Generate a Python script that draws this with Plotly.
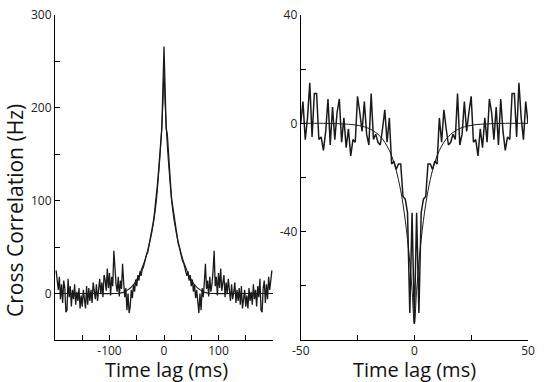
import plotly.graph_objects as go

# left panel: positive-lag half (ms, step 2), trace is symmetric so it is mirrored
left_lag_half = list(range(0, 200, 2))
left_cc_half = [266, 222, 178, 172, 150, 132, 118, 102, 94, 84,
                76, 66, 62, 54, 50, 44, 42, 35, 33, 28,
                26, 19, 24, 14, 20, 8, 15, 2, 10, -5,
                4, -14, -21, 0, -18, 6, -4, 12, 32, 5,
                14, -3, 18, 2, 10, 24, 46, 8, 18, -2,
                22, 6, 27, 3, 15, 20, -4, 12, 0, 16,
                4, -8, 10, -6, 2, 12, -10, 4, -8, 6,
                -12, 8, -16, -4, 4, -14, -2, -16, 6, -8,
                2, -12, 10, -6, 4, -14, 8, -4, 16, -18,
                -20, 6, 14, -10, 10, -6, 18, 4, 14, 25]
left_fit_lag_half = [0, 2, 4, 6, 8, 10, 12, 14, 16, 18, 20, 22, 24, 26, 28, 30,
                     32, 34, 36, 38, 40, 44, 48, 52, 56, 60, 64, 70, 76, 82, 90, 120, 160, 200]
left_fit_half = [238, 205, 180, 160, 143, 128, 113, 100, 90, 81, 74, 67, 61, 56, 51, 46.5,
                 42, 38, 34, 31, 28, 22, 17, 13, 9.5, 7, 5, 2.5, 1, 0.3, 0, 0, 0, 0]

# right panel: negative-lag half (ms, step 1), mirrored
right_lag_half = list(range(-50, 1))
right_cc_half = [0, 8, -6, 2, 15, -5, 11, 11, -6, -5,
                 -10, -3, 9, -8, 6, -6, 4, 9, -7, 2,
                 -9, -2, -12, -6, -7, 10, 4, -3, 8, -4,
                 -8, 11, -6, -4, -7, -8, -2, 5, -7, 2,
                 -15, -14, -17, -15, -15, -27, -28, -33, -70, -33,
                 -74]
right_fit_lag_half = [-50, -40, -35, -30, -28, -26, -24, -22, -20, -19, -18, -17, -16, -15,
                      -14, -13, -12, -11, -10, -9, -8, -7, -6, -5, -4, -3, -2, -1, 0]
right_fit_half = [0, 0, -0.1, -0.3, -0.4, -0.6, -0.9, -1.3, -1.9, -2.3, -2.8, -3.4, -4.0, -4.9,
                  -5.8, -7.0, -8.4, -10.0, -12.0, -14.4, -17.3, -20.8, -24.9, -29.9, -35.8,
                  -42.9, -51.5, -61.7, -74]


def mirror_pos(xs, ys):
    # xs start at 0 and go up
    return [-x for x in xs[:0:-1]] + xs, ys[:0:-1] + ys


def mirror_neg(xs, ys):
    # xs end at 0
    return xs + [-x for x in xs[-2::-1]], ys + ys[-2::-1]


lx, ly = mirror_pos(left_lag_half, left_cc_half)
lfx, lfy = mirror_pos(left_fit_lag_half, left_fit_half)
rx, ry = mirror_neg(right_lag_half, right_cc_half)
rfx, rfy = mirror_neg(right_fit_lag_half, right_fit_half)

ink = '#1a1a1a'
fig = go.Figure()
fig.add_trace(go.Scatter(x=lx, y=ly, mode='lines', line=dict(color=ink, width=1.3),
                         xaxis='x', yaxis='y', showlegend=False))
fig.add_trace(go.Scatter(x=lfx, y=lfy, mode='lines', line=dict(color=ink, width=1.1, shape='spline'),
                         xaxis='x', yaxis='y', showlegend=False))
fig.add_trace(go.Scatter(x=rx, y=ry, mode='lines', line=dict(color=ink, width=1.5),
                         xaxis='x2', yaxis='y2', showlegend=False))
fig.add_trace(go.Scatter(x=rfx, y=rfy, mode='lines', line=dict(color=ink, width=1.0, shape='spline'),
                         xaxis='x2', yaxis='y2', showlegend=False))

W, H = 545, 382
font = 'Open Sans, DejaVu Sans, sans-serif'
ydom = [1 - 340 / H, 1 - 15 / H]

axis_common = dict(showline=True, linecolor='black', linewidth=1, showgrid=False, zeroline=False,
                   ticks='inside', ticklen=5, tickcolor='black', tickwidth=1, automargin=False,
                   tickfont=dict(family=font, size=12, color='#222'))


def ax(rng, dom, vals, minor_dt, anchor):
    d = dict(axis_common)
    d.update(range=rng, domain=dom, tickmode='array', tickvals=vals,
             ticktext=[str(v) for v in vals], anchor=anchor,
             minor=dict(ticks='inside', ticklen=5, tickcolor='black', dtick=minor_dt, tick0=0))
    return d


fig.update_layout(
    width=W, height=H, margin=dict(l=0, r=0, t=0, b=0, autoexpand=False),
    plot_bgcolor='white', paper_bgcolor='white',
    xaxis=ax([-200, 200], [55 / W, 273 / W], [-100, 0, 100], 50, 'y'),
    yaxis=ax([-50, 300], ydom, [0, 100, 200, 300], 50, 'x'),
    xaxis2=ax([-50, 50], [300.7 / W, 528 / W], [-50, 0, 50], 25, 'y2'),
    yaxis2=ax([-80, 40], ydom, [-40, 0, 40], 20, 'x2'),
)

title_font = dict(family=font, size=20, color='#111')
for cx in (166, 414):
    fig.add_annotation(text='Time lag (ms)', x=cx / W, y=1 - 369 / H, xref='paper', yref='paper',
                       showarrow=False, font=title_font, xanchor='center', yanchor='middle',
                       borderpad=0)
fig.add_annotation(text='Cross Correlation (Hz)', x=15 / W, y=1 - 211 / H, xref='paper', yref='paper',
                   showarrow=False, font=dict(family=font, size=21, color='#111'), textangle=-90,
                   xanchor='center', yanchor='middle')

# the page body has a default 8px margin; drop it so the figure sits at the window corner
fig.write_html('out.html', config={'displayModeBar': False},
               post_script="document.body.style.margin='0';")
